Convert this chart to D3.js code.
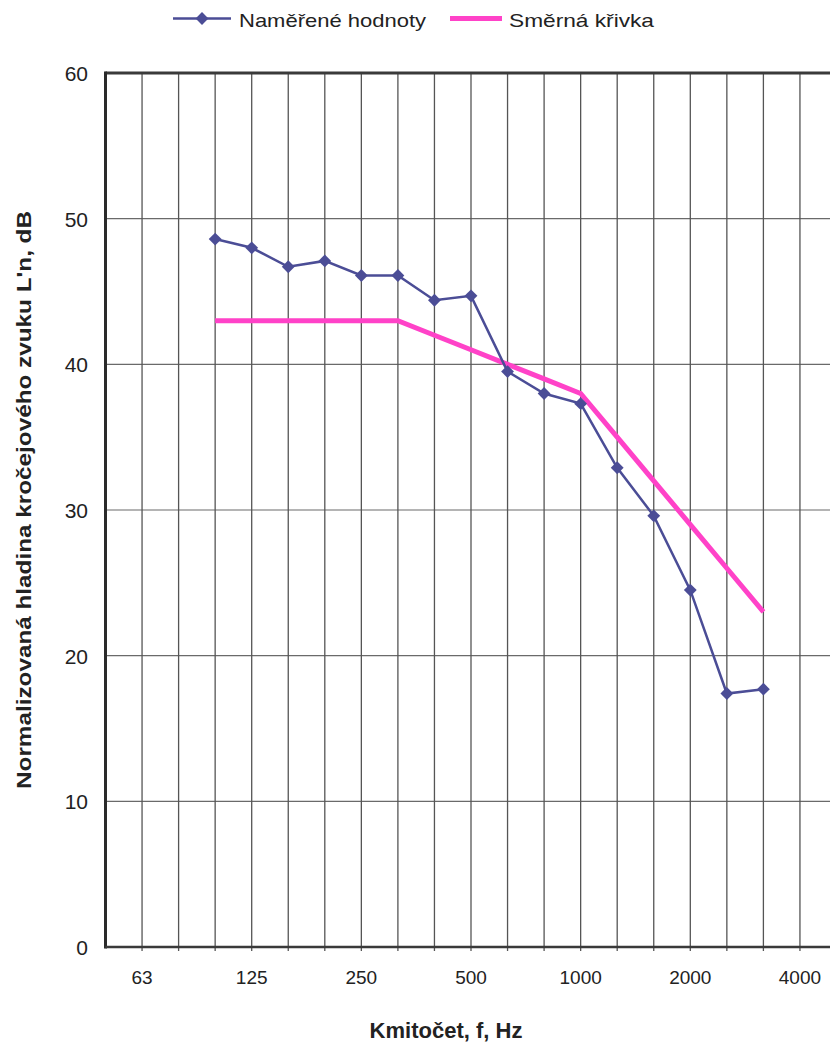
<!DOCTYPE html>
<html>
<head>
<meta charset="utf-8">
<script src="https://cdn.jsdelivr.net/npm/d3@7"></script>
<style>
  html, body { margin: 0; padding: 0; background: #fff; }
  svg { display: block; }
  text { font-family: "Liberation Sans", Arial, sans-serif; fill: #222; }
</style>
</head>
<body>
<svg id="chart" width="830" height="1043"></svg>
<script>
// ---- data ----
const categories = ["50","63","80","100","125","160","200","250","315","400","500","630","800","1000","1250","1600","2000","2500","3150","4000","5000"];
const tickLabels = ["63","125","250","500","1000","2000","4000"];
const yTicks = [0, 10, 20, 30, 40, 50, 60];
const seriesFreqs = ["100","125","160","200","250","315","400","500","630","800","1000","1250","1600","2000","2500","3150"];
const measured = [48.6, 48.0, 46.7, 47.1, 46.1, 46.1, 44.4, 44.7, 39.5, 38.0, 37.3, 32.9, 29.6, 24.5, 17.4, 17.7];
const reference = [43, 43, 43, 43, 43, 43, 42, 41, 40, 39, 38, 35, 32, 29, 26, 23];
const seriesNames = ["Naměřené hodnoty", "Směrná křivka"];
const xTitle = "Kmitočet, f, Hz";
const yTitle = "Normalizovaná hladina kročejového zvuku L'n, dB";

(function () {
// ---- layout ----
const svg = d3.select("#chart");
const pLeft = 105.5, pTop = 73, pBottom = 947, step = 36.55;
const x = d3.scalePoint().domain(categories).range([pLeft, pLeft + step * (categories.length - 1)]);
const y = d3.scaleLinear().domain([0, 60]).range([pBottom, pTop]);
const pRight = x.range()[1];
const measColor = "#4b4d96", refColor = "#ff42c8";

// horizontal gridlines
svg.append("g").selectAll("line").data(yTicks.filter(d => d > 0 && d < 60)).join("line")
  .attr("x1", pLeft).attr("x2", pRight).attr("y1", d => y(d)).attr("y2", d => y(d))
  .attr("stroke", "#6a6a6a").attr("stroke-width", 1.2);

// vertical gridlines
svg.append("g").selectAll("line").data(categories.slice(1)).join("line")
  .attr("x1", d => x(d)).attr("x2", d => x(d)).attr("y1", pTop).attr("y2", pBottom + 4)
  .attr("stroke", "#555").attr("stroke-width", 1.3);

// frame
svg.append("line").attr("x1", pLeft).attr("x2", pRight).attr("y1", pTop).attr("y2", pTop)
  .attr("stroke", "#3a3a3a").attr("stroke-width", 3);
svg.append("line").attr("x1", pLeft).attr("x2", pLeft).attr("y1", pTop - 1.5).attr("y2", pBottom + 1.5)
  .attr("stroke", "#2a2a2a").attr("stroke-width", 3);
svg.append("line").attr("x1", pLeft).attr("x2", pRight).attr("y1", pBottom).attr("y2", pBottom)
  .attr("stroke", "#3a3a3a").attr("stroke-width", 2.5);

// y tick labels
svg.append("g").selectAll("text").data(yTicks).join("text")
  .attr("x", 88).attr("y", d => y(d) + 8)
  .attr("text-anchor", "end").attr("font-size", 21)
  .text(d => d);

// x tick labels
svg.append("g").selectAll("text").data(tickLabels).join("text")
  .attr("x", d => x(d)).attr("y", 984)
  .attr("text-anchor", "middle").attr("font-size", 19)
  .text(d => d);

// axis titles
svg.append("text").attr("x", 446).attr("y", 1038).attr("text-anchor", "middle")
  .attr("font-size", 22).attr("font-weight", "bold").text(xTitle);
svg.append("text").attr("transform", "translate(31,500) rotate(-90)").attr("text-anchor", "middle")
  .attr("font-size", 21).attr("font-weight", "bold")
  .attr("textLength", 578).attr("lengthAdjust", "spacingAndGlyphs").text(yTitle);

// reference line
const line = d3.line().x((d, i) => x(seriesFreqs[i])).y(d => y(d));
svg.append("path").datum(reference).attr("d", line)
  .attr("fill", "none").attr("stroke", refColor).attr("stroke-width", 5).attr("stroke-linejoin", "miter");

// measured line
svg.append("path").datum(measured).attr("d", line)
  .attr("fill", "none").attr("stroke", measColor).attr("stroke-width", 2.5);
const diamond = d3.symbol().type(d3.symbolDiamond2).size(105);
svg.append("g").selectAll("path").data(measured).join("path")
  .attr("transform", (d, i) => `translate(${x(seriesFreqs[i])},${y(d)})`)
  .attr("d", diamond).attr("fill", measColor);

// legend
const lg = svg.append("g");
lg.append("line").attr("x1", 173).attr("x2", 231).attr("y1", 18.5).attr("y2", 18.5)
  .attr("stroke", measColor).attr("stroke-width", 2.5);
lg.append("path").attr("transform", "translate(202,18.5)").attr("d", diamond).attr("fill", measColor);
lg.append("text").attr("x", 239).attr("y", 27).attr("font-size", 18.5)
  .attr("textLength", 187).attr("lengthAdjust", "spacingAndGlyphs").text(seriesNames[0]);
lg.append("line").attr("x1", 450).attr("x2", 502).attr("y1", 18.5).attr("y2", 18.5)
  .attr("stroke", refColor).attr("stroke-width", 5);
lg.append("text").attr("x", 509).attr("y", 27).attr("font-size", 18.5)
  .attr("textLength", 145).attr("lengthAdjust", "spacingAndGlyphs").text(seriesNames[1]);
})();
</script>
</body>
</html>
